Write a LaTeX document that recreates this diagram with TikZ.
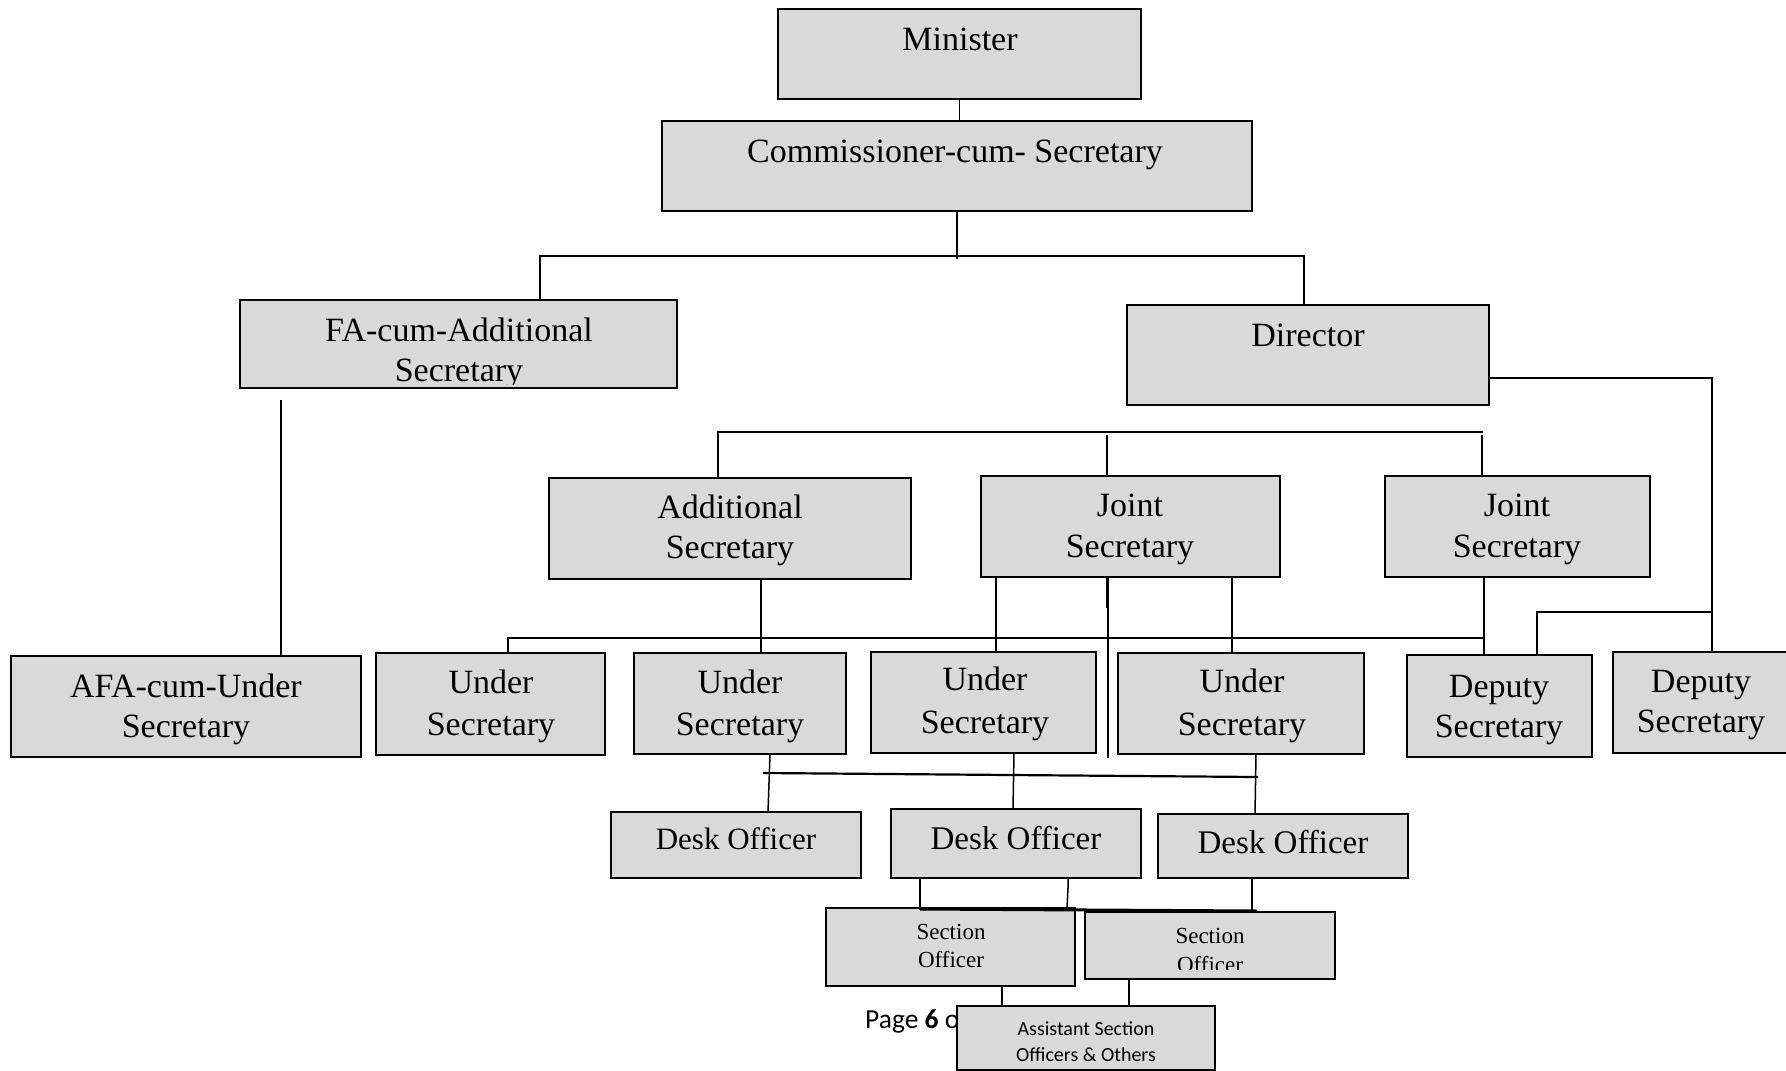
\documentclass[tikz,border=0pt]{standalone}
\usepackage{fontspec}
\setmainfont{Liberation Serif}
\newfontfamily\calibri{Carlito}
\definecolor{boxgray}{HTML}{D9D9D9}
\tikzset{
  obox/.style={draw=black, fill=boxgray, line width=1.9pt, inner sep=0pt, outer sep=0pt},
  lab/.style={inner sep=0pt, outer sep=0pt, anchor=base, font=\fontsize{34}{40}\selectfont},
  labdesk/.style={lab, font=\fontsize{33}{40}\selectfont},
  labsmall/.style={lab, font=\fontsize{23}{28}\selectfont},
  labsans/.style={lab, font=\calibri\fontsize{20}{24}\selectfont},
  conn/.style={line width=1.5pt, line cap=rect},
  thickconn/.style={line width=2.2pt, line cap=rect},
}
\newcommand{\orgbox}[5]{\node[obox, minimum width={#4-#2}, minimum height={#5-#3}] (#1) at ({(#2+#4)/2},{(#3+#5)/2}) {};}
\begin{document}
\begin{tikzpicture}[x=1pt,y=-1pt]
\useasboundingbox (0,0) rectangle (1786,1071);
\fill[white] (0,0) rectangle (1786,1071);

% page footer text (partly hidden by the last box)
\node[inner sep=0pt, anchor=base west, font=\calibri\fontsize{27.5}{32}\selectfont] (pg) at (865,1028) {Page \textbf{6} o};

% ---------- boxes ----------
\orgbox{min}{778}{9}{1141}{99}
\orgbox{comm}{662}{121}{1252}{211}
\orgbox{fa}{240}{300}{677}{388}
\orgbox{dir}{1127}{305}{1489}{405}
\orgbox{add}{549}{478}{911}{579}
\orgbox{jsa}{981}{476}{1280}{577}
\orgbox{jsb}{1385}{476}{1650}{577}
\orgbox{afa}{11}{656}{361}{757}
\orgbox{usa}{376}{653}{605}{755}
\orgbox{usb}{634}{653}{846}{754}
\orgbox{usc}{871}{652}{1096}{753}
\orgbox{usd}{1118}{653}{1364}{754}
\orgbox{dpa}{1407}{655}{1592}{757}
\orgbox{dpb}{1613}{652}{1792}{753}
\orgbox{dka}{611}{812}{861}{878}
\orgbox{dkb}{891}{809}{1141}{878}
\orgbox{dkc}{1158}{814}{1408}{878}
\orgbox{soa}{826}{908}{1075}{986}
\orgbox{sob}{1085}{912}{1335}{979}
\orgbox{aso}{957}{1006}{1215}{1070}

% ---------- labels ----------
\node[lab] (minT) at (960,50) {Minister};
\node[lab] (commT) at (955,162) {Commissioner-cum- Secretary};
\node[lab] (faT1) at (459,341) {FA-cum-Additional};
\begin{scope}
  \clip (240,300) rectangle (677,384);
  \node[lab] (faT2) at (459,381) {Secretary};
\end{scope}
\node[lab] (dirT) at (1308,346) {Director};
\node[lab] (addT1) at (730,518) {Additional};
\node[lab] (addT2) at (730,558) {Secretary};
\node[lab] (jsaT1) at (1130,516) {Joint};
\node[lab] (jsaT2) at (1130,557) {Secretary};
\node[lab] (jsbT1) at (1517,516) {Joint};
\node[lab] (jsbT2) at (1517,557) {Secretary};
\node[lab] (afaT1) at (186,697) {AFA-cum-Under};
\node[lab] (afaT2) at (186,737) {Secretary};
\node[lab] (usaT1) at (491,693) {Under};
\node[lab] (usaT2) at (491,735) {Secretary};
\node[lab] (usbT1) at (740,693) {Under};
\node[lab] (usbT2) at (740,735) {Secretary};
\node[lab] (uscT1) at (985,690) {Under};
\node[lab] (uscT2) at (985,733) {Secretary};
\node[lab] (usdT1) at (1242,692) {Under};
\node[lab] (usdT2) at (1242,735) {Secretary};
\node[lab] (dpaT1) at (1499,697) {Deputy};
\node[lab] (dpaT2) at (1499,737) {Secretary};
\node[lab] (dpbT1) at (1701,692) {Deputy};
\node[lab] (dpbT2) at (1701,732) {Secretary};
\node[labdesk, font=\fontsize{31}{36}\selectfont] (dkaT) at (736,849) {Desk Officer};
\node[labdesk] (dkbT) at (1016,849) {Desk Officer};
\node[labdesk] (dkcT) at (1283,853) {Desk Officer};
\node[labsmall] (soaT1) at (951,939) {Section};
\node[labsmall] (soaT2) at (951,967) {Officer};
\node[labsmall] (sobT1) at (1210,943) {Section};
\begin{scope}
  \clip (1085,912) rectangle (1335,969);
  \node[labsmall] (sobT2) at (1210,972) {Officer};
\end{scope}
\node[labsans] (asoT1) at (1086,1035) {Assistant Section};
\node[labsans] (asoT2) at (1086,1061) {Officers \& Others};

% ---------- junction coordinates ----------
\coordinate (tbL) at (540,256);
\coordinate (tbR) at (1304,256);
\coordinate (faDrop) at (281,401);
\coordinate (dirR) at (1712,378);
\coordinate (dpJ) at (1712,612);
\coordinate (dpL) at (1537,612);
\coordinate (mbL) at (718,432);
\coordinate (mbM) at (1107,432);
\coordinate (mbR) at (1482,432);
\coordinate (lbL) at (508,638);
\coordinate (lbR) at (1484,638);
\coordinate (jsLong) at (1108,757);
\coordinate (udL) at (764,773);
\coordinate (udR) at (1257,777);
\coordinate (sbL) at (920,909);
\coordinate (sbR) at (1257,911);

% ---------- connectors ----------
\draw[conn] (min.south) -- (min.south |- comm.north);
\draw[conn] (comm.south) -- ([yshift=-2pt]comm.south |- tbL);
\draw[thickconn] (fa.north -| tbL) -- (tbL) -- (tbR) -- (dir.north -| tbR);
\draw[conn] (faDrop) -- (afa.north -| faDrop);
\draw[conn] (dir.east |- dirR) -- (dirR) -- (dpb.north -| dirR);
\draw[conn] (dpJ) -- (dpL) -- (dpa.north -| dpL);
\draw[thickconn] (add.north -| mbL) -- (mbL) -- (mbR);
\draw[conn] ([yshift=-4pt]mbM) -- (jsa.north -| mbM);
\draw[conn] ([yshift=-4pt]mbR) -- (jsb.north -| mbR);
\draw[thickconn] (usa.north -| lbL) -- (lbL) -- (lbR);
\draw[conn] (jsb.south -| lbR) -- (dpa.north -| lbR);
\draw[conn] (add.south -| 761,0) -- (usb.north -| 761,0);
\draw[conn] (jsa.south -| 996,0) -- (usc.north -| 996,0);
\draw[conn] (jsa.south -| 1232,0) -- (usd.north -| 1232,0);
\draw[conn] (jsa.south -| jsLong) -- (jsLong);
\draw[line width=3pt] (jsa.south -| 1107,0) -- (1107,608);
\draw[thickconn] (udL) -- (udR);
\draw[conn] (usb.south -| 770,0) -- (768,812);
\draw[conn] (usc.south -| 1014,0) -- (1013,809);
\draw[conn] (usd.south -| 1256,0) -- (1255,814);
\draw[conn] (dkb.south -| sbL) -- (sbL);
\draw[conn] (dkb.south -| 1068,0) -- (1068,888) -- (1067,908);
\draw[conn] (dkc.south -| 1252,0) -- (1252,911);
\draw[line width=3pt] (sbL) -- (sbR);
\draw[conn] (soa.south -| 1002,0) -- (aso.north -| 1002,0);
\draw[conn] (sob.south -| 1129,0) -- (aso.north -| 1129,0);
\end{tikzpicture}
\end{document}
